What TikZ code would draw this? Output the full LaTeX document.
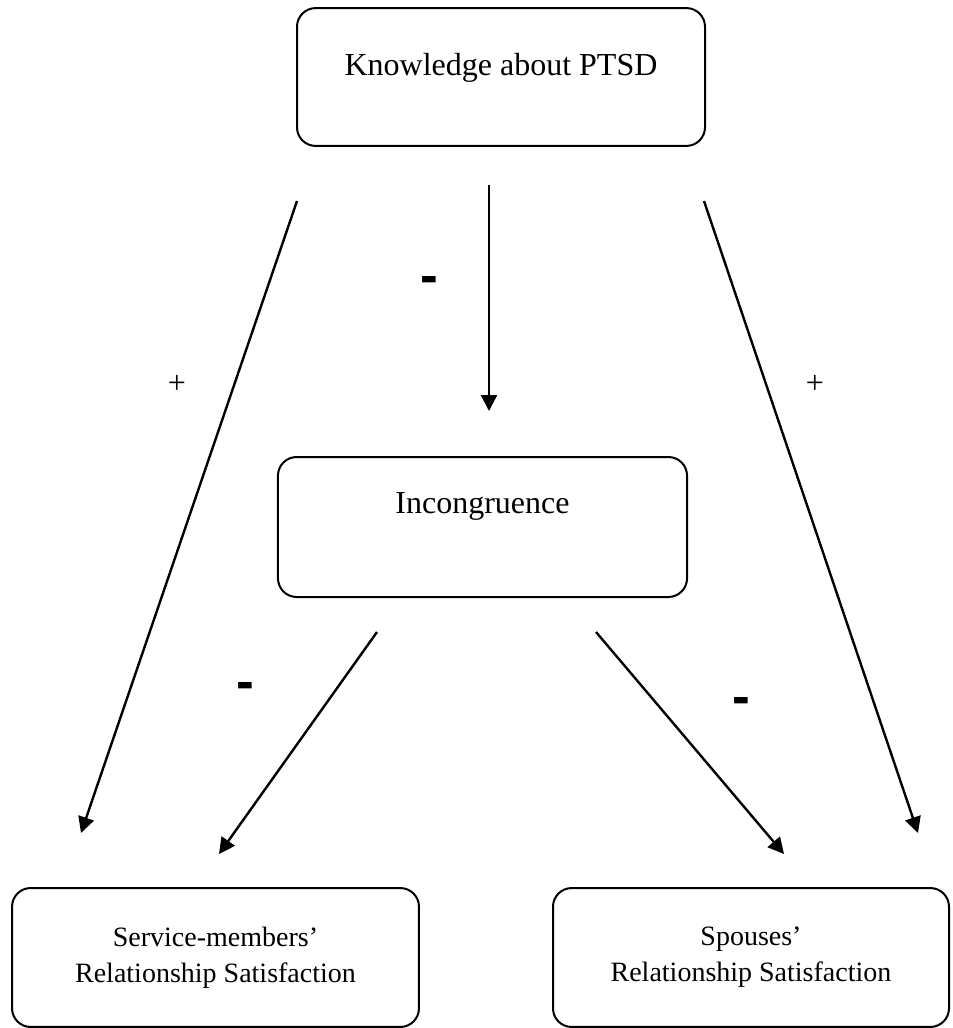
\documentclass[tikz,border=0pt]{standalone}
\usepackage{fontspec}
\setmainfont{Liberation Serif}
\newfontfamily\signfont{Liberation Sans}
\usetikzlibrary{arrows.meta}

\tikzset{
    factor/.style={draw, line width=0.75pt, rounded corners=7pt, inner sep=0pt, align=center,
                   font=\fontsize{12}{14}\selectfont},
    link/.style={line width=0.9pt, -{Triangle[length=6pt,width=6pt]}},
    minussign/.style={inner sep=0pt, anchor=base, font=\signfont\bfseries\fontsize{20}{24}\selectfont},
    plussign/.style={inner sep=0pt, anchor=base, font=\fontsize{12}{14}\selectfont}
}

\begin{document}
\begin{tikzpicture}[x=0.375pt, y=-0.375pt]
    \useasboundingbox (0,0) rectangle (953,1028);

    \node[factor, anchor=base, minimum width=153pt,   text height=25.1pt, text depth=26.6pt] (know)  at (501,75)    {Knowledge about PTSD};
    \node[factor, anchor=base, minimum width=153.4pt, text height=21pt,   text depth=31.5pt] (incon) at (482.5,513) {Incongruence};
    \node[factor, minimum width=152.6pt, minimum height=52.1pt, font=\fontsize{10.5}{13.5}\selectfont] (smsat) at (215.5,957.5) {Service-members'\\Relationship Satisfaction};
    \node[factor, minimum width=148.5pt, minimum height=52.1pt, font=\fontsize{10.5}{13.5}\selectfont] (spsat) at (751,957.5)   {Spouses'\\Relationship Satisfaction};

    \coordinate (know-l) at (297,201); \coordinate (smsat-o) at (81,833);
    \coordinate (know-m) at (489,185); \coordinate (incon-t) at (489,411);
    \coordinate (know-r) at (704,201); \coordinate (spsat-o) at (918,833);
    \coordinate (incon-l) at (377,632); \coordinate (smsat-i) at (219,854);
    \coordinate (incon-r) at (596,632); \coordinate (spsat-i) at (784,854);

    \draw[link] (know-l) -- (smsat-o);
    \draw[link] (know-m) -- (incon-t);
    \draw[link] (know-r) -- (spsat-o);
    \draw[link] (incon-l) -- (smsat-i);
    \draw[link] (incon-r) -- (spsat-i);

    \node[minussign] (m1) at (429,293) {-};
    \node[minussign] (m2) at (245,699) {-};
    \node[minussign] (m3) at (741,714) {-};
    \node[plussign]  (p1) at (177,393) {+};
    \node[plussign]  (p2) at (815,393) {+};
\end{tikzpicture}
\end{document}
